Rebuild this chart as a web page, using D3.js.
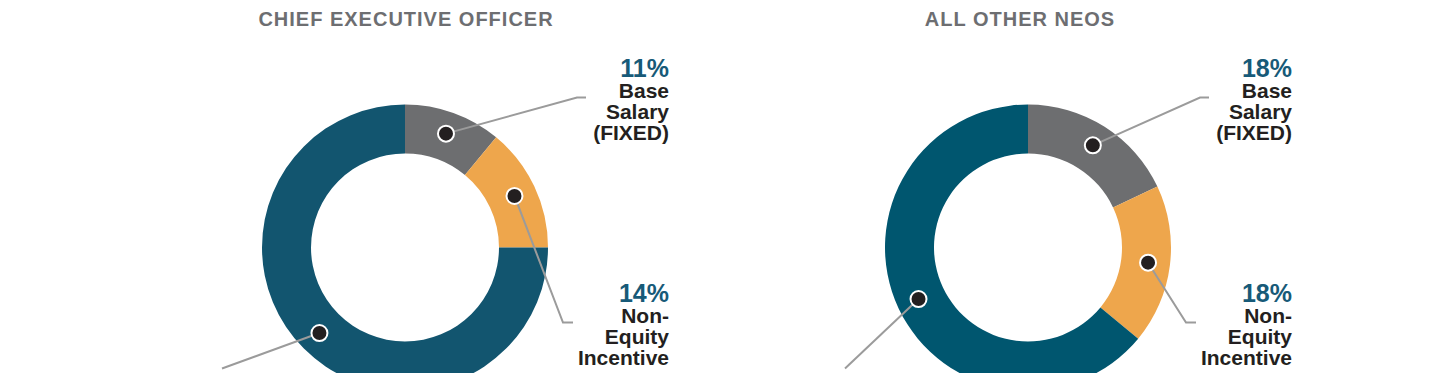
<!DOCTYPE html>
<html>
<head>
<meta charset="utf-8">
<style>
  body { margin: 0; background: #fff; }
  svg { display: block; font-family: Arial, "Liberation Sans", sans-serif; }
  .title { fill: #6d6e71; font-size: 20px; font-weight: bold; letter-spacing: 1px; text-anchor: middle; }
  .pct { fill: #175a78; font-size: 25px; font-weight: bold; text-anchor: end; }
  .lbl { fill: #231f20; font-size: 21px; font-weight: bold; text-anchor: end; }
  .leader { fill: none; stroke: #9b9b9b; stroke-width: 2px; }
  .dot { fill: #231f20; stroke: #fff; stroke-width: 2px; }
</style>
</head>
<body>
<div id="chart"></div>
<script src="https://cdn.jsdelivr.net/npm/d3@7"></script>
<script>
  // data
  var categories = ["Base Salary (FIXED)", "Non-Equity Incentive", "Long-Term Incentive"];
  var labelLines = [["Base", "Salary", "(FIXED)"], ["Non-", "Equity", "Incentive"]];
  var titles = ["CHIEF EXECUTIVE OFFICER", "ALL OTHER NEOS"];
  var ceoValues = [11, 14, 75];
  var neoValues = [18, 18, 64];

  var width = 1440, height = 373;
  var outerR = 143, innerR = 94, dotR = 121;

  var svg = d3.select("#chart").append("svg")
      .attr("width", width)
      .attr("height", height);

  var pie = d3.pie().sort(null).value(function(d) { return d; });
  var arc = d3.arc().innerRadius(innerR).outerRadius(outerR);
  var dotArc = d3.arc().innerRadius(dotR).outerRadius(dotR);

  function drawDonut(values, title, cx, titleX, blue) {
    var color = d3.scaleOrdinal().domain(categories).range(["#6d6e70", "#eea64c", blue]);
    var cy = 247.5;

    svg.append("text").attr("class", "title")
        .attr("x", titleX).attr("y", 26)
        .text(title);

    var g = svg.append("g").attr("transform", "translate(" + cx + "," + cy + ")");
    var slices = pie(values);

    g.selectAll("path.slice").data(slices).enter().append("path")
        .attr("class", "slice")
        .attr("d", arc)
        .attr("fill", function(d, i) { return color(categories[i]); });

    // leader lines: upper label, lower label, off-chart label
    var ends = [
      [[172, -150], [181, -150]],
      [[158, 75], [168, 75]],
      [[-183, 121]]
    ];
    slices.forEach(function(d, i) {
      var c = dotArc.centroid(d);
      var pts = [c].concat(ends[i]);
      g.append("path").attr("class", "leader")
          .attr("d", d3.line()(pts));
    });
    g.selectAll("circle.dot").data(slices).enter().append("circle")
        .attr("class", "dot")
        .attr("r", 8)
        .attr("cx", function(d) { return dotArc.centroid(d)[0]; })
        .attr("cy", function(d) { return dotArc.centroid(d)[1]; });

    // labels
    var labelTop = [-171, 54];
    labelLines.forEach(function(lines, i) {
      var t = g.append("text").attr("x", 264).attr("y", labelTop[i]);
      t.append("tspan").attr("class", "pct").attr("x", 264).attr("y", labelTop[i])
          .text(values[i] + "%");
      lines.forEach(function(s, j) {
        t.append("tspan").attr("class", "lbl").attr("x", 264)
            .attr("y", labelTop[i] + 21 * (j + 1))
            .text(s);
      });
    });
  }

  drawDonut(ceoValues, titles[0], 405, 406, "#12556f");
  drawDonut(neoValues, titles[1], 1028, 1020, "#00566f");
</script>
</body>
</html>
